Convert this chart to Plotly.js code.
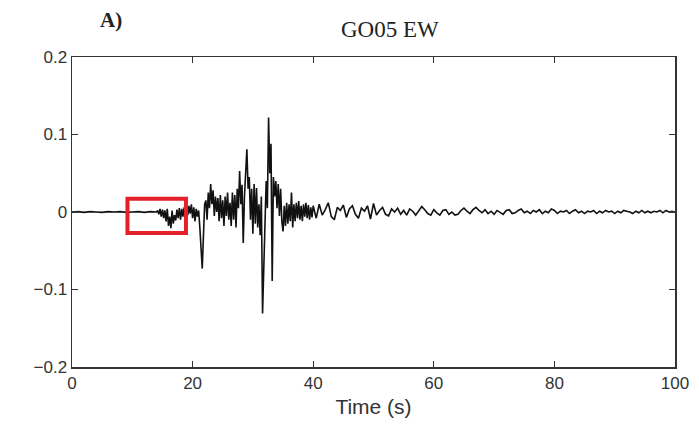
<!DOCTYPE html>
<html>
<head>
<meta charset="utf-8">
<script src="https://cdn.plot.ly/plotly-3.0.1.min.js"></script>
<style>html,body{margin:0;padding:0;background:#fff;}#chart{width:699px;height:428px;}</style>
</head>
<body>
<div id="chart"></div>
<script>
// Record sampled in three segments (start time, sample step in s)
const preEventStart = 0, preEventStep = 1.0;
const preEvent = [0, 0.0005, -0.0005, 0.0005, 0, -0.0005, 0.0005, 0, 0.0005, -0.0005, 0, 0.0005, -0.0005, 0.0005, 0.000];

const strongStart = 14.2, strongStep = 0.2;
const strongMotion = [
  0.002, -0.003, 0.004, -0.006, 0.003, -0.008, 0.002,
  -0.012, 0.004, -0.018, -0.006, -0.021, 0.002, -0.015, -0.004, -0.011,
  0.003, -0.008, 0.005, -0.010, 0.004, -0.006, 0.006, -0.003, 0.002,
  -0.004, 0.008, -0.002, 0.010, -0.008, 0.006, -0.012, 0.004, -0.006, 0.002,
  -0.020, -0.050, -0.073, -0.030, 0.010,
  0.015, -0.010, 0.025, 0.005, 0.036, 0.010, 0.028, -0.005, 0.020, 0.000,
  0.018, -0.012, 0.022, -0.008, 0.015, -0.018, 0.020, -0.005, 0.025, -0.010,
  0.012, -0.018, 0.025, -0.010, 0.022, -0.020, 0.030, 0.005, 0.053, 0.010,
  0.035, -0.040, 0.020, 0.060, 0.081, 0.030, 0.045, -0.010, 0.030, -0.028,
  0.036, -0.015, 0.031, -0.020, 0.010, -0.030, 0.020, -0.131, -0.060, -0.020,
  0.040, 0.005, 0.122, 0.050, 0.088, -0.089, 0.045, 0.020, 0.040, 0.005,
  0.036, -0.005, 0.030, -0.012, -0.025, 0.008, -0.018, 0.012, -0.015, 0.010,
  -0.012, 0.025, -0.020, 0.010, -0.012, 0.012, -0.008, 0.014, -0.010, 0.008,
  -0.012, 0.010, -0.006, 0.012, -0.008, 0.009, -0.010, 0.006, -0.007, 0.008
];

const codaStart = 40.5, codaStep = 0.5;
const coda = [
  -0.008, 0.010, -0.004, 0.003, 0.012, -0.006, -0.010, 0.006, 0.002, 0.009,
  -0.007, 0.004, 0.008, -0.003, -0.008, 0.005, 0.001, 0.008, -0.009, 0.011,
  -0.004, 0.002, 0.006, -0.003, -0.005, 0.004, 0.000, 0.005, -0.003, 0.002,
  -0.004, 0.004, 0.001, -0.004, 0.002, 0.007, 0.003, -0.002, -0.004, 0.003,
  -0.001, -0.004, 0.002, 0.003, -0.003, 0.000, -0.004, -0.003, 0.002, 0.005,
  0.001, -0.002, 0.003, 0.006, 0.002, -0.001, 0.003, -0.002, 0.001, -0.003,
  0.002, 0.000, -0.003, 0.002, 0.003, -0.002, -0.001, 0.002, 0.004, -0.001,
  0.001, -0.002, 0.002, 0.000, 0.003, -0.002, 0.001, -0.001, 0.004, 0.002,
  -0.002, 0.001, 0.000, 0.002, -0.002, 0.001, 0.003, -0.001, 0.001, -0.002,
  0.001, 0.000, 0.002, -0.002, 0.001, -0.001, 0.002, 0.000, 0.001, -0.002,
  0.001, -0.001, 0.002, 0.001, 0.000, -0.002, 0.001, -0.001, 0.002, -0.001,
  0.001, -0.001, 0.001, 0.000, 0.002, -0.001, 0.002, 0.000, 0.001, 0.000
];

const xTickVals = [0, 20, 40, 60, 80, 100];
const xTickText = ["0", "20", "40", "60", "80", "100"];
const yTickVals = [-0.2, -0.1, 0, 0.1, 0.2];
const yTickText = ["\u22120.2", "\u22120.1", "0", "0.1", "0.2"];

// Highlight box (time window, amplitude window)
const boxTime = [9.2, 18.9];
const boxAmp = [-0.027, 0.017];

const t = [], v = [];
function addSeg(start, step, vals) {
  vals.forEach((val, i) => { t.push(+(start + i * step).toFixed(3)); v.push(val); });
}
addSeg(preEventStart, preEventStep, preEvent);
addSeg(strongStart, strongStep, strongMotion);
addSeg(codaStart, codaStep, coda);

const axFont = {family: "Liberation Sans, Arial, sans-serif", size: 17, color: "#333"};

const data = [{
  x: t, y: v, type: "scatter", mode: "lines",
  line: {color: "#111", width: 1.6},
  hoverinfo: "skip"
}];

const layout = {
  width: 699, height: 428,
  margin: {l: 72, r: 24, t: 57, b: 61},
  paper_bgcolor: "#fff", plot_bgcolor: "#fff",
  showlegend: false,
  xaxis: {
    range: [0, 100], tickvals: xTickVals, ticktext: xTickText,
    ticks: "inside", ticklen: 6, tickwidth: 1.2, tickcolor: "#333",
    showline: true, linecolor: "#333", linewidth: 1.5, mirror: "ticks",
    showgrid: false, zeroline: false, tickfont: axFont,
    title: {text: "Time (s)", font: {family: "Liberation Sans, Arial, sans-serif", size: 21, color: "#333"}, standoff: 7}
  },
  yaxis: {
    range: [-0.2, 0.2], tickvals: yTickVals, ticktext: yTickText,
    ticks: "inside", ticklen: 6, tickwidth: 1.2, tickcolor: "#333",
    showline: true, linecolor: "#333", linewidth: 1.5, mirror: "ticks",
    showgrid: false, zeroline: false, tickfont: axFont
  },
  shapes: [{
    type: "rect", xref: "x", yref: "y",
    x0: boxTime[0], x1: boxTime[1], y0: boxAmp[0], y1: boxAmp[1],
    line: {color: "#e4202a", width: 4}, fillcolor: "rgba(0,0,0,0)"
  }],
  annotations: [
    {text: "GO05 EW", xref: "paper", yref: "paper", x: 0.527, y: 1.0, yshift: 28,
     xanchor: "center", yanchor: "middle", showarrow: false,
     font: {family: "Liberation Serif, Times New Roman, serif", size: 23, color: "#222"}},
    {text: "<b>A)</b>", xref: "paper", yref: "paper", x: 0.065, y: 1.0, yshift: 37,
     xanchor: "center", yanchor: "middle", showarrow: false,
     font: {family: "Liberation Serif, Times New Roman, serif", size: 21, color: "#222"}}
  ]
};

Plotly.newPlot("chart", data, layout, {staticPlot: true, displayModeBar: false});
</script>
</body>
</html>
